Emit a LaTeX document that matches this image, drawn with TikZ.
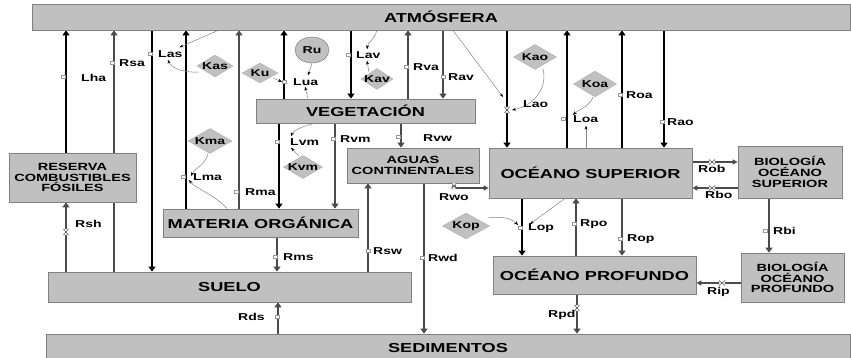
\documentclass[tikz,border=0pt]{standalone}
\usepackage{fontspec}
\setmainfont{Liberation Sans}[FakeStretch=1.4]
\usetikzlibrary{arrows.meta,shapes.geometric,calc}
\definecolor{boxfill}{RGB}{192,192,192}
\definecolor{boxline}{RGB}{128,128,128}
\definecolor{flowgray}{RGB}{75,75,75}
\definecolor{linkgray}{RGB}{130,130,130}
\definecolor{tagline}{RGB}{150,150,150}
\pgfdeclarelayer{bg}
\pgfsetlayers{bg,main}
\tikzset{
 box/.style={draw=boxline, fill=boxfill, line width=0.8pt, inner sep=0pt, align=center, font=\fontsize{13}{14}\selectfont\bfseries},
 sbox/.style={box, font=\fontsize{10.4}{10.6}\selectfont\bfseries},
 kdia/.style={diamond, draw=boxline!60, fill=boxfill, inner sep=0pt, line width=0.5pt, font=\fontsize{10}{10}\selectfont\bfseries},
 kell/.style={ellipse, draw=boxline, fill=boxfill, inner sep=0pt, line width=0.5pt, font=\fontsize{10}{10}\selectfont\bfseries},
 lab/.style={anchor=west, inner sep=0pt, font=\fontsize{10}{10}\selectfont\bfseries},
 blk/.style={draw=black, line width=2.9pt, -{Triangle[length=5pt,width=7pt]}},
 gry/.style={draw=flowgray, line width=2.9pt, -{Triangle[length=5pt,width=7pt]}},
 med/.style={draw=flowgray, line width=1.3pt, -{Triangle[length=5pt,width=5pt]}},
 lnk/.style={draw=linkgray, line width=0.5pt, -{Stealth[length=4pt,width=3pt,black]}},
 tag/.pic={\draw[tagline, line width=0.4pt, fill=white] (-2,-1.5) rectangle (2,1.5);},
 valve/.pic={\draw[flowgray, line width=0.4pt, fill=white] (-2.5,-3) -- (2.5,-3) -- (-2.5,3) -- (2.5,3) -- cycle;},
}
\begin{document}
\begin{tikzpicture}[x=1pt,y=-1pt]
\useasboundingbox (0,0) rectangle (851,358);
% ---------- boxes ----------
\node[box, minimum width=818, minimum height=26] (atm) at (441,17) {ATMÓSFERA};
\node[box, minimum width=804, minimum height=28] (sed) at (448,348) {SEDIMENTOS};
\node[box, minimum width=363, minimum height=30] (suelo) at (229.5,287) {SUELO};
\node[sbox, minimum width=127, minimum height=49] (res) at (72.5,177.5) {RESERVA\\COMBUSTIBLES\\FÓSILES};
\node[box, minimum width=195, minimum height=28] (mat) at (260.5,223) {MATERIA ORGÁNICA};
\node[box, minimum width=219, minimum height=24] (veg) at (365.5,111) {VEGETACIÓN};
\node[sbox, minimum width=132, minimum height=35] (agu) at (413,165.5) {AGUAS\\CONTINENTALES};
\node[box, minimum width=203, minimum height=50] (osup) at (590.5,173) {OCÉANO SUPERIOR};
\node[sbox, minimum width=104, minimum height=52] (bsup) at (790,172) {BIOLOGÍA\\OCÉANO\\SUPERIOR};
\node[box, minimum width=203, minimum height=38] (oprof) at (594.5,275) {OCÉANO PROFUNDO};
\node[sbox, minimum width=103, minimum height=49] (bprof) at (792.5,277.5) {BIOLOGÍA\\OCÉANO\\PROFUNDO};
% ---------- constants ----------
\node[kdia, minimum width=36, minimum height=22] (kas) at (215,66) {\makebox[0pt]{Kas}};
\node[kdia, minimum width=36, minimum height=20] (ku) at (260,73) {\makebox[0pt]{Ku}};
\node[kdia, minimum width=32, minimum height=21] (kav) at (377,79) {\makebox[0pt]{Kav}};
\node[kdia, minimum width=43, minimum height=25] (kao) at (535,57) {\makebox[0pt]{Kao}};
\node[kdia, minimum width=43, minimum height=26] (koa) at (595,84) {\makebox[0pt]{Koa}};
\node[kdia, minimum width=44, minimum height=25] (kma) at (210,141) {\makebox[0pt]{Kma}};
\node[kdia, minimum width=39, minimum height=23] (kvm) at (303,167) {\makebox[0pt]{Kvm}};
\node[kdia, minimum width=47, minimum height=26] (kop) at (466,226) {\makebox[0pt]{Kop}};
\node[kell, minimum width=34, minimum height=26] (ru) at (312,50) {\makebox[0pt]{Ru}};
% ---------- labels ----------
\node[lab] (lha) at (81,78) {Lha};
\node[lab] (rsa) at (119,63) {Rsa};
\node[lab] (las) at (158,54) {Las};
\node[lab] (lua) at (293,82) {Lua};
\node[lab] (lav) at (356,55) {Lav};
\node[lab] (rva) at (413,67) {Rva};
\node[lab] (rav) at (448,77) {Rav};
\node[lab] (lao) at (523,104) {Lao};
\node[lab] (loa) at (573,119) {Loa};
\node[lab] (roa) at (626,95) {Roa};
\node[lab] (rao) at (667,122) {Rao};
\node[lab] (lvm) at (290,142) {Lvm};
\node[lab] (rvm) at (340,139) {Rvm};
\node[lab] (rvw) at (423,138) {Rvw};
\node[lab] (lma) at (193,177) {Lma};
\node[lab] (rma) at (245,192) {Rma};
\node[lab] (rsh) at (75,224) {Rsh};
\node[lab] (rsw) at (373,251) {Rsw};
\node[lab] (rms) at (283,257) {Rms};
\node[lab] (rwd) at (428,258) {Rwd};
\node[lab] (rwo) at (439,197) {Rwo};
\node[lab] (lop) at (528,228) {Lop};
\node[lab] (rpo) at (580,224) {Rpo};
\node[lab] (rop) at (627,239) {Rop};
\node[lab] (rob) at (698,169) {Rob};
\node[lab] (rbo) at (705,195) {Rbo};
\node[lab] (rbi) at (773,231) {Rbi};
\node[lab] (rip) at (707,292) {Rip};
\node[lab] (rpd) at (548,315) {Rpd};
\node[lab] (rds) at (238,317) {Rds};
% ---------- connectors ----------
\begin{pgfonlayer}{bg}
\draw[blk] (res.north -| 66,0) -- (atm.south -| 66,0);
\draw[gry] (suelo.north -| 66,0) -- (res.south -| 66,0);
\draw[gry] (suelo.north -| 114,0) -- (atm.south -| 114,0);
\draw[blk] (atm.south -| 152,0) -- (suelo.north -| 152,0);
\draw[blk] (mat.north -| 186,0) -- (atm.south -| 186,0);
\draw[gry] (mat.north -| 239,0) -- (atm.south -| 239,0);
\draw[blk] (veg.north -| 284,0) -- (atm.south -| 284,0);
\draw[blk] (atm.south -| 351,0) -- (veg.north -| 351,0);
\draw[gry] (veg.north -| 408,0) -- (atm.south -| 408,0);
\draw[gry] (atm.south -| 443,0) -- (veg.north -| 443,0);
\draw[blk] (atm.south -| 507,0) -- (osup.north -| 507,0);
\draw[blk] (osup.north -| 567,0) -- (atm.south -| 567,0);
\draw[blk] (osup.north -| 622,0) -- (atm.south -| 622,0);
\draw[blk] (atm.south -| 664,0) -- (osup.north -| 664,0);
\draw[blk] (veg.south -| 279,0) -- (mat.north -| 279,0);
\draw[gry] (veg.south -| 335,0) -- (mat.north -| 335,0);
\draw[gry] (veg.south -| 401,0) -- (agu.north -| 401,0);
\draw[gry] (suelo.north -| 368,0) -- (agu.south -| 368,0);
\draw[gry] (agu.south -| 424,0) -- (sed.north -| 424,0);
\draw[med, {Triangle[length=4pt,width=5pt]}-{Triangle[length=5pt,width=5pt]}] (agu.south -| 454,0) |- (osup.west |- 0,188);
\draw[blk] (osup.south -| 522,0) -- (oprof.north -| 522,0);
\draw[gry] (oprof.north -| 576,0) -- (osup.south -| 576,0);
\draw[gry] (osup.south -| 622,0) -- (oprof.north -| 622,0);
\draw[med] (osup.east |- 0,162) -- (bsup.west |- 0,162);
\draw[med] (bsup.west |- 0,188) -- (osup.east |- 0,188);
\draw[gry] (bsup.south -| 769,0) -- (bprof.north -| 769,0);
\draw[med] (bprof.west |- 0,283) -- (oprof.east |- 0,283);
\draw[gry] (oprof.south -| 577,0) -- (sed.north -| 577,0);
\draw[gry] (mat.south -| 277,0) -- (suelo.north -| 277,0);
\draw[gry] (sed.north -| 278,0) -- (suelo.south -| 278,0);
% influence links
\draw[lnk] (atm.south -| 218,0) -- ($(las.north east)+(-3,-3)$);
\draw[lnk] ($(kas.west)+(2,6)$) .. controls (180,73) and (170,66) .. ($(las.south west)+(10,2)$);
\draw[lnk] ($(ku.east)+(-5,5)$) -- ($(lua.west)+(-11,0)$);
\draw[lnk] (ru.south) -- ($(lua.north west)+(15,-3)$);
\draw[lnk] (veg.north -| 308,0) .. controls (307,94) .. ($(lua.south west)+(12,1)$);
\draw[lnk] (atm.south -| 377,0) .. controls (374,40) and (368,42) .. ($(lav.north west)+(11,-2)$);
\draw[lnk] ($(kav.north)+(-8,4)$) -- ($(lav.south west)+(11,2)$);
\draw[lnk] (atm.south -| 453,0) -- ($(lao.west)+(-20,-7)$);
\draw[lnk] ($(kao.south)+(8,-1)$) .. controls (548,90) and (532,106) .. ($(lao.west)+(-11,6)$);
\draw[lnk] ($(koa.south)+(-2,0)$) .. controls (590,106) and (578,110) .. ($(loa.west)+(0,-4)$);
\draw[lnk] (osup.north -| 586,0) -- ($(loa.south west)+(13,3)$);
\draw[lnk] (veg.south -| 314,0) .. controls (300,127) and (293,131) .. ($(lvm.north west)+(1,-2)$);
\draw[lnk] ($(kvm.north)+(-4,1)$) -- ($(lvm.south west)+(1,2)$);
\draw[lnk] ($(kma.south)+(-2,0)$) .. controls (205,165) and (195,168) .. ($(lma.west)+(-2,-1)$);
\draw[lnk] (mat.north -| 227,0) .. controls (215,195) and (195,188) .. ($(lma.west)+(-4,3)$);
\draw[lnk] ($(kop.east)+(-2,-8)$) .. controls (505,216) and (512,219) .. ($(lop.west)+(-10,-3)$);
\draw[lnk] (osup.south -| 565,0) -- ($(lop.west)+(2,-4)$);
\end{pgfonlayer}
% ---------- markers ----------
\foreach \p in {(63,77),(112,63),(150,54),(284,82),(348,55),(406,67),(443,77),(563,119),(620,95),(662,122),(277,142),(333,139),(398,137),(183,177),(236,192),(368,251),(275,257),(422,258),(520,228),(574,224),(620,239),(765,231),(277,317)}
  \pic at \p {tag};
\foreach \p in {(66,232),(507,110),(577,308),(454,186)}
  \pic at \p {valve};
\foreach \p in {(712,162),(712,188),(722,283)}
  \pic[rotate=90] at \p {valve};
\end{tikzpicture}
\end{document}
